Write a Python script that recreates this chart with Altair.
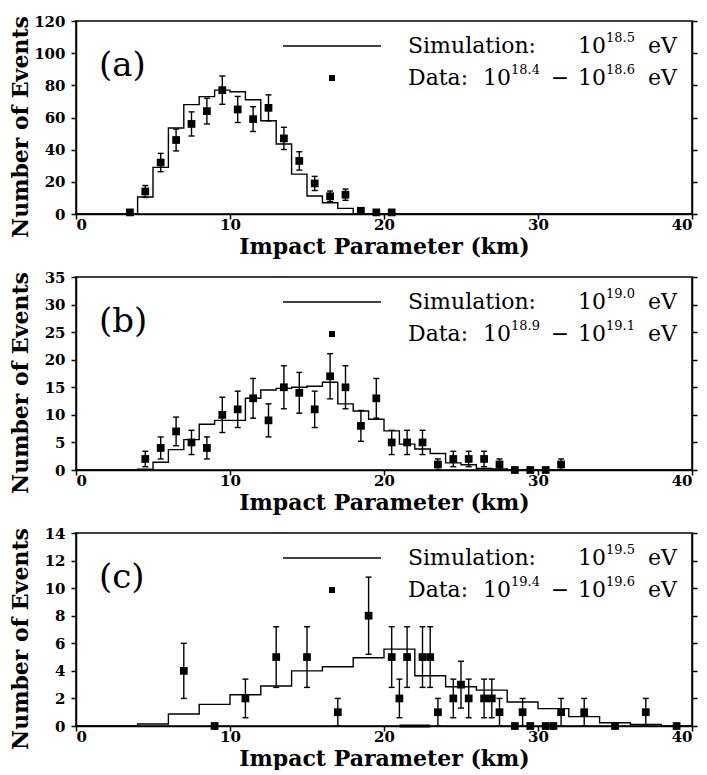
import altair as alt
import pandas as pd

FONT = "DejaVu Serif"
W, H = 616, 193
X_TICKS = [0, 10, 20, 30, 40]

# ---------------- panel (a) ----------------
a_km = [3.5, 4.5, 5.5, 6.5, 7.5, 8.5, 9.5, 10.5, 11.5, 12.5, 13.5, 14.5,
        15.5, 16.5, 17.5, 18.5, 19.5, 20.5]
a_n = [1, 14, 32, 46, 56, 64, 77, 65, 59, 66, 47, 33, 19, 11, 12, 2, 1, 1]
a_err = [0, 3.7, 5.7, 6.8, 7.5, 8.0, 8.8, 8.1, 7.7, 8.1, 6.9, 5.7, 4.4, 3.3,
         3.5, 0, 0, 0]
a_edges = [0, 4, 5, 6, 7, 8, 9, 10, 11, 12, 13, 14, 15, 16, 17, 18, 40]
a_sim = [0, 10.6, 29, 53.5, 68, 73, 77, 76, 71, 58, 43.5, 24.8, 11.2, 7, 3.5, 0]
a_yticks = [0, 20, 40, 60, 80, 100, 120]

# ---------------- panel (b) ----------------
b_km = [4.5, 5.5, 6.5, 7.5, 8.5, 9.5, 10.5, 11.5, 12.5, 13.5, 14.5, 15.5,
        16.5, 17.5, 18.5, 19.5, 20.5, 21.5, 22.5, 23.5, 24.5, 25.5, 26.5,
        27.5, 28.5, 29.5, 30.5, 31.5]
b_n = [2, 4, 7, 5, 4, 10, 11, 13, 9, 15, 14, 11, 17, 15, 8, 13, 5, 5, 5, 1,
       2, 2, 2, 1, 0, 0, 0, 1]
b_err = [1.4, 2.0, 2.6, 2.2, 2.0, 3.2, 3.3, 3.6, 3.0, 3.9, 3.7, 3.3, 4.1,
         3.9, 2.8, 3.6, 2.2, 2.2, 2.2, 1.0, 1.4, 1.4, 1.4, 1.0, 0, 0, 0, 1.0]
b_edges = [0, 4, 5, 6, 7, 8, 9, 10, 11, 12, 13, 14, 15, 16, 17, 18, 19, 20,
           21, 22, 23, 24, 25, 26, 27, 28, 40]
b_sim = [0, 0.15, 1.4, 3.7, 5.5, 8.3, 9.0, 9.0, 13, 14.5, 14.8, 15.0, 15.2,
         15.9, 12, 10.7, 9.2, 7.1, 4.7, 3.8, 3.0, 1.3, 0.96, 0.3, 0.2, 0]
b_yticks = [0, 5, 10, 15, 20, 25, 30, 35]

# ---------------- panel (c) ----------------
c_km = [7, 9, 11, 13, 15, 17, 19, 20.5, 21, 21.5, 22.5, 23, 23.5, 24.5, 25,
        25.5, 26.5, 27, 27.5, 28.5, 29, 29.5, 30.5, 31, 31.5, 33, 35, 37, 39]
c_n = [4, 0, 2, 5, 5, 1, 8, 5, 2, 5, 5, 5, 1, 2, 3, 2, 2, 2, 1, 0, 1, 0, 0,
       0, 1, 1, 0, 1, 0]
c_err = [2.0, 0, 1.4, 2.2, 2.2, 1.0, 2.8, 2.2, 1.4, 2.2, 2.2, 2.2, 1.0, 1.4,
         1.7, 1.4, 1.4, 1.4, 1.0, 0, 1.0, 0, 0, 0, 1.0, 1.0, 0, 1.0, 0]
c_edges = [0, 4, 6, 8, 10, 12, 14, 16, 18, 20, 22, 24, 26, 28, 30, 32, 34,
           36, 38, 40]
c_sim = [0, 0.15, 0.87, 1.57, 2.27, 2.9, 4.0, 4.3, 4.95, 5.58, 3.65, 2.85,
         2.6, 1.74, 1.26, 0.68, 0.24, 0.12, 0]
c_yticks = [0, 2, 4, 6, 8, 10, 12, 14]
c_base_seg = [21, 23]


def const_chart():
    return alt.Chart(alt.Data(values=[{"k": 0}]))


def txt(s, x, y, size, align="left", weight="normal"):
    return const_chart().mark_text(
        text=s, fontSize=size, align=align, baseline="middle", font=FONT,
        fontWeight=weight, color="black"
    ).encode(x=alt.value(x), y=alt.value(y))


def panel(km, n, err, edges, sim, ymax, yticks, label, sim_sup, lo_sup, hi_sup,
          seg=None):
    sim_df = pd.DataFrame(
        [{"km": edges[i], "n": sim[i]} for i in range(len(sim))]
        + [{"km": edges[-1], "n": sim[-1]}]
    )
    pts_df = pd.DataFrame({"km": km, "n": n})
    err_df = pd.DataFrame(
        [{"km": k, "lo": max(0.0, v - e), "hi": v + e}
         for k, v, e in zip(km, n, err) if e > 0]
    )
    xs = alt.Scale(domain=[0, 40], nice=False, zero=False)
    ys = alt.Scale(domain=[0, ymax], nice=False)
    x_axis = alt.X("km:Q", scale=xs, axis=alt.Axis(
        values=X_TICKS, title="Impact Parameter (km)", tickSize=5,
        labelPadding=-2, titleY=22, titleBaseline="top", titleFontSize=22))

    sim_line = alt.Chart(sim_df).mark_line(
        interpolate="step-after", color="black", strokeWidth=1.4
    ).encode(
        x=x_axis,
        y=alt.Y("n:Q", scale=ys, axis=alt.Axis(
            values=yticks, title="Number of Events", tickSize=5,
            labelPadding=6, titleX=-56, titleY=H / 2 + 9,
            titleBaseline="middle", titleFontSize=22)),
    )
    right_axis = alt.Chart(sim_df).mark_line(opacity=0).encode(
        x=x_axis,
        y=alt.Y("n:Q", scale=ys, axis=alt.Axis(
            orient="right", values=yticks, labels=False, title=None,
            tickSize=5)),
    )
    bars = alt.Chart(err_df).mark_rule(color="black", strokeWidth=1.4).encode(
        x=x_axis, y=alt.Y("lo:Q", scale=ys, axis=None), y2="hi:Q")
    cap_lo = alt.Chart(err_df).mark_tick(
        orient="horizontal", size=6, thickness=1.4, color="black", opacity=1
    ).encode(x=x_axis, y=alt.Y("lo:Q", scale=ys, axis=None))
    cap_hi = alt.Chart(err_df).mark_tick(
        orient="horizontal", size=6, thickness=1.4, color="black", opacity=1
    ).encode(x=x_axis, y=alt.Y("hi:Q", scale=ys, axis=None))
    pts = alt.Chart(pts_df).mark_point(
        shape="square", filled=True, size=60, color="black", opacity=1
    ).encode(x=x_axis, y=alt.Y("n:Q", scale=ys, axis=None))

    layers = [sim_line, bars, cap_lo, cap_hi, pts]
    if seg is not None:
        seg_df = pd.DataFrame({"km": [seg[0]], "km2": [seg[1]], "n": [0]})
        layers.append(alt.Chart(seg_df).mark_rule(
            color="black", strokeWidth=3).encode(
            x=x_axis, x2="km2:Q", y=alt.Y("n:Q", scale=ys, axis=None)))

    # legend decorations
    leg_line = const_chart().mark_rule(color="black", strokeWidth=1.3).encode(
        x=alt.value(207), x2=alt.value(305), y=alt.value(25))
    leg_pt = const_chart().mark_point(
        shape="square", filled=True, size=36, color="black", opacity=1
    ).encode(x=alt.value(256), y=alt.value(57))
    r1, r2 = 25, 57
    legend = [
        leg_line, leg_pt,
        txt("Simulation:", 332, r1, 22),
        txt("10", 502, r1, 22),
        txt(sim_sup, 530, r1 - 8, 13),
        txt("eV", 572, r1, 22),
        txt("Data:", 332, r2, 22),
        txt("10", 407, r2, 22),
        txt(lo_sup, 435, r2 - 8, 13),
        txt("\u2212", 484, r2, 22, align="center"),
        txt("10", 502, r2, 22),
        txt(hi_sup, 530, r2 - 8, 13),
        txt("eV", 572, r2, 22),
        txt(label, 23, 45, 34),
    ]
    layers = layers + legend + [right_axis]
    return alt.layer(*layers).resolve_axis(y="independent").properties(
        width=W, height=H)


pa = panel(a_km, a_n, a_err, a_edges, a_sim, 120, a_yticks, "(a)",
           "18.5", "18.4", "18.6")
pb = panel(b_km, b_n, b_err, b_edges, b_sim, 35, b_yticks, "(b)",
           "19.0", "18.9", "19.1")
pc = panel(c_km, c_n, c_err, c_edges, c_sim, 14, c_yticks, "(c)",
           "19.5", "19.4", "19.6", seg=c_base_seg)

chart = alt.vconcat(pa, pb, pc, spacing=63, bounds="flush").properties(
    padding={"left": 0, "top": 5, "right": 0, "bottom": 0}
).configure_view(
    stroke="black", strokeWidth=1.5
).configure_axis(
    labelFont=FONT, labelFontSize=15, labelFontWeight="bold",
    labelColor="black", titleFont=FONT, titleFontSize=21,
    titleFontWeight="bold", titleColor="black", domainColor="black",
    domainWidth=1.5, tickColor="black", tickWidth=1.5, grid=False
)

chart.save("out.html", embed_options={"renderer": "svg", "actions": False})
